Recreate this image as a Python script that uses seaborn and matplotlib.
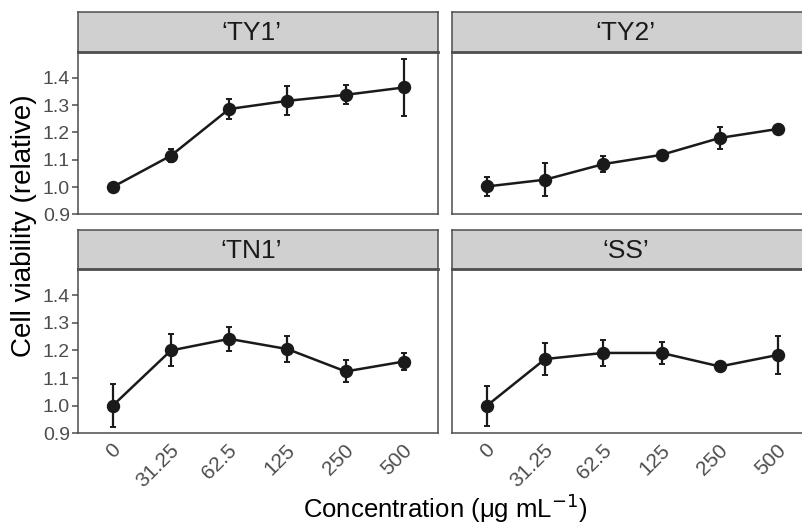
import numpy as np
import pandas as pd
import matplotlib
matplotlib.use("Agg")
import matplotlib.pyplot as plt
import matplotlib.transforms as mtransforms
import seaborn as sns

sns.set_theme(style="white")
plt.rcParams['font.family'] = ['Liberation Sans', 'DejaVu Sans']

concentrations = ["0", "31.25", "62.5", "125", "250", "500"]
cultivars = ["\u2018TY1\u2019", "\u2018TY2\u2019", "\u2018TN1\u2019", "\u2018SS\u2019"]

ty1_mean = [1.000, 1.115, 1.286, 1.316, 1.338, 1.365]
ty1_err = [0.012, 0.024, 0.037, 0.053, 0.035, 0.105]
ty2_mean = [1.002, 1.027, 1.084, 1.118, 1.180, 1.213]
ty2_err = [0.035, 0.061, 0.030, 0.008, 0.040, 0.006]
tn1_mean = [1.000, 1.200, 1.242, 1.205, 1.124, 1.160]
tn1_err = [0.077, 0.058, 0.044, 0.048, 0.040, 0.032]
ss_mean = [1.000, 1.169, 1.191, 1.191, 1.142, 1.184]
ss_err = [0.072, 0.059, 0.046, 0.040, 0.015, 0.070]

y_ticks = [0.9, 1.0, 1.1, 1.2, 1.3, 1.4]

means = [ty1_mean, ty2_mean, tn1_mean, ss_mean]
errs = [ty1_err, ty2_err, tn1_err, ss_err]
df = pd.concat([
    pd.DataFrame({"cultivar": c, "conc": concentrations, "mean": m, "err": e})
    for c, m, e in zip(cultivars, means, errs)
], ignore_index=True)

W, H = 803, 530
fig = plt.figure(figsize=(W / 100, H / 100), dpi=100)

def fx(px):
    return px / W

def fy(py):
    return 1 - py / H

col_x = [78.3, 452.5]
panel_w = 360.0
rows = [(12.0, 52.0, 214.3), (230.0, 269.0, 433.3)]
edge = '#4d4d4d'

for i, cult in enumerate(cultivars):
    r, c = divmod(i, 2)
    s_top, a_top, a_bot = rows[r]
    x0 = col_x[c]
    ax = fig.add_axes([fx(x0), fy(a_bot), fx(panel_w), (a_bot - a_top) / H])
    sub = df[df["cultivar"] == cult].reset_index(drop=True)
    sns.pointplot(data=sub, x="conc", y="mean", order=concentrations, color='#1a1a1a',
                  errorbar=None, markers='o', markersize=8.3, linewidth=1.8, ax=ax)
    ax.errorbar(np.arange(len(sub)), sub["mean"], yerr=sub["err"], fmt='none',
                ecolor='#1a1a1a', elinewidth=1.6, capsize=2.0, capthick=1.4, zorder=1)
    ax.set_xlim(-0.59, 5.59)
    ax.set_ylim(0.9, 1.495)
    ax.set_yticks(y_ticks)
    ax.set_xlabel("")
    ax.set_ylabel("")
    for sp in ax.spines.values():
        sp.set_color(edge)
        sp.set_linewidth(1.1)
        sp.set_visible(True)
    ax.tick_params(axis='x', length=0, pad=6)
    if c == 0:
        ax.set_yticklabels([f"{t:.1f}" for t in y_ticks])
        ax.tick_params(axis='y', length=4, width=1.1, color=edge, labelsize=14,
                       labelcolor='#4d4d4d', pad=2, left=True)
    else:
        ax.set_yticklabels([])
        ax.tick_params(axis='y', length=0)
    if r == 1:
        ax.set_xticks(range(len(concentrations)))
        ax.set_xticklabels(concentrations, rotation=45, ha='right', va='center',
                           rotation_mode='anchor', fontsize=15, color='#4d4d4d')
        ax.tick_params(axis='x', pad=10)
        offset = mtransforms.ScaledTranslation(5 / 100, 0, fig.dpi_scale_trans)
        for lab in ax.get_xticklabels():
            lab.set_transform(lab.get_transform() + offset)
    else:
        ax.set_xticklabels([])
    # strip
    sax = fig.add_axes([fx(x0), fy(a_top), fx(panel_w), (a_top - s_top) / H])
    sax.set_xlim(0, 1)
    sax.set_ylim(0, 1)
    sax.set_xticks([])
    sax.set_yticks([])
    sax.set_facecolor('#d0d0d0')
    for sp in sax.spines.values():
        sp.set_color(edge)
        sp.set_linewidth(1.1)
    sax.spines['bottom'].set_linewidth(2.0)
    sax.text(0.48, 0.47, cult, ha='center', va='center', fontsize=19, color='#1a1a1a')

fig.text(fx(24), fy(226), "Cell viability (relative)", rotation=90, ha='center',
         va='center', fontsize=20, color='black')
fig.text(fx(445), fy(508), "Concentration (\u03bcg mL$^{-1}$)", ha='center', va='center',
         fontsize=18.5, color='black')

fig.savefig("out.png", dpi=100)
